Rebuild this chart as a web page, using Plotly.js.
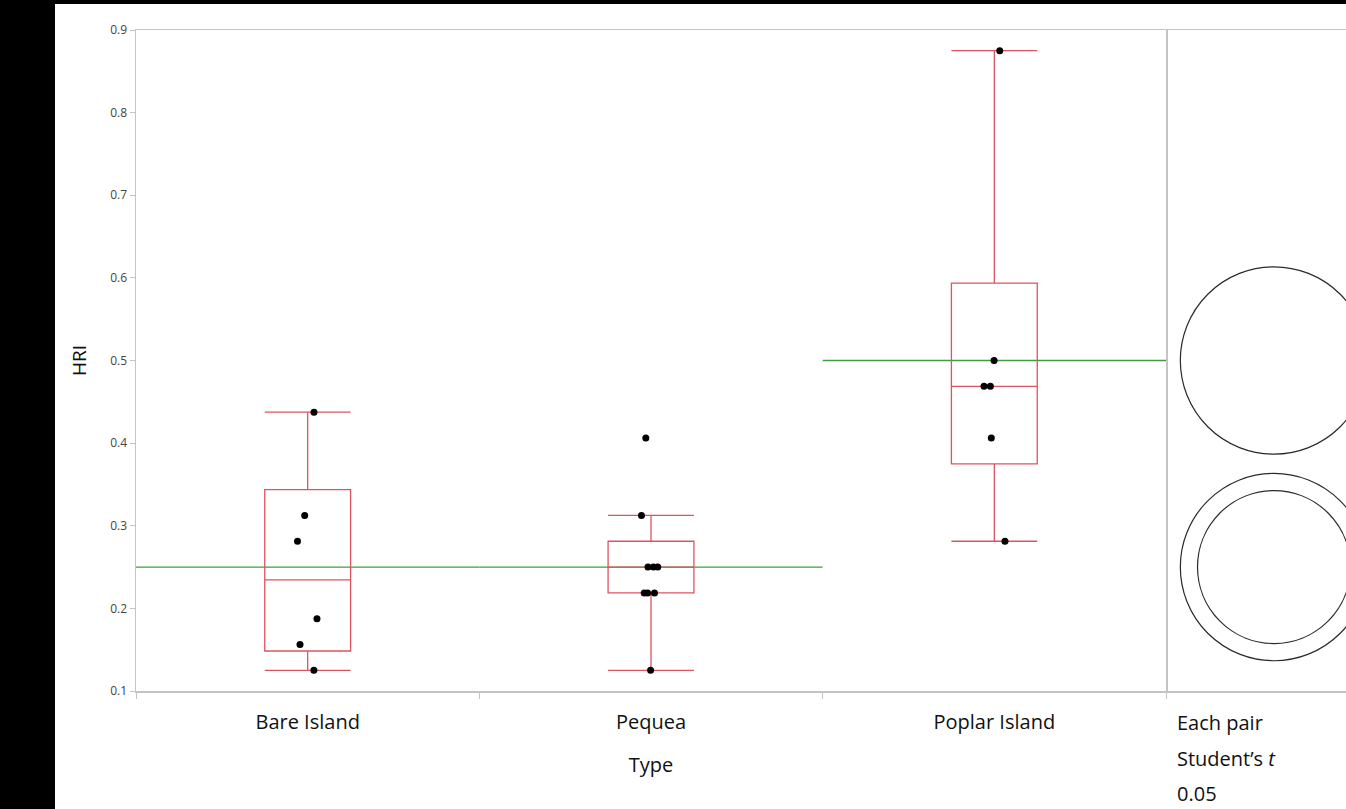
<!DOCTYPE html>
<html><head><meta charset="utf-8">
<script src="https://cdn.plot.ly/plotly-3.0.1.min.js"></script>
<style>
html,body{margin:0;padding:0;background:#000;overflow:hidden;width:1346px;height:809px}
#chart{position:absolute;left:55px;top:4px;width:1291px;height:805px;background:#fff}
</style>
</head><body><div id="chart"></div>
<script>
// ---- data (HRI by Type) ----
const categories = ['Bare Island', 'Pequea', 'Poplar Island'];
const bareIsland = [0.4375, 0.3125, 0.28125, 0.1875, 0.15625, 0.125];
const pequea = [0.40625, 0.3125, 0.25, 0.25, 0.25, 0.21875, 0.21875, 0.21875, 0.125];
const poplarIsland = [0.875, 0.5, 0.46875, 0.46875, 0.40625, 0.28125];
const yTickVals = [0.1, 0.2, 0.3, 0.4, 0.5, 0.6, 0.7, 0.8, 0.9];
const yRange = [0.1, 0.9];
const alphaLevel = '0.05';
const tCrit = 2.1009; // Student's t, alpha 0.05 two-sided, df = N - k = 18

const groups = [bareIsland, pequea, poplarIsland];

// ---- statistics (JMP style quantiles: position (n+1)p) ----
function quant(sorted, p) {
  const n = sorted.length, pos = (n + 1) * p, lo = Math.floor(pos);
  if (lo < 1) return sorted[0];
  if (lo >= n) return sorted[n - 1];
  return sorted[lo - 1] + (pos - lo) * (sorted[lo] - sorted[lo - 1]);
}
const stats = groups.map(g => {
  const s = g.slice().sort((a, b) => a - b);
  const q1 = quant(s, 0.25), med = quant(s, 0.5), q3 = quant(s, 0.75);
  const iqr = q3 - q1;
  const lf = Math.min(...s.filter(v => v >= q1 - 1.5 * iqr - 1e-12));
  const uf = Math.max(...s.filter(v => v <= q3 + 1.5 * iqr + 1e-12));
  const mean = g.reduce((a, b) => a + b, 0) / g.length;
  return {q1, med, q3, lf, uf, mean, n: g.length};
});
const N = groups.reduce((a, g) => a + g.length, 0);
const sse = groups.reduce((acc, g, i) => acc + g.reduce((a, v) => a + (v - stats[i].mean) ** 2, 0), 0);
const rmse = Math.sqrt(sse / (N - groups.length));

// ---- layout geometry ----
const W = 1291, H = 805;
const M = {l: 81, r: 0, t: 26, b: 118};
const plotW = W - M.l - M.r, plotH = H - M.t - M.b;
const split = 1030 / plotW;
const pxPerUnit = plotH / (yRange[1] - yRange[0]);
const panelPx = plotW * (1 - split);
const x2Range = [0, panelPx / pxPerUnit];
const circleCx = x2Range[1] * 0.6;

const boxColor = '#dc5462';
const meanColor = '#3c9e3c';
const frameColor = '#c4c4c4';
const font = 'Open Sans, Noto Sans, sans-serif';

const boxTrace = {
  type: 'box', x: categories,
  q1: stats.map(s => s.q1), median: stats.map(s => s.med), q3: stats.map(s => s.q3),
  lowerfence: stats.map(s => s.lf), upperfence: stats.map(s => s.uf),
  boxpoints: false, width: 0.25, whiskerwidth: 1,
  line: {color: boxColor, width: 1.3}, fillcolor: 'rgba(0,0,0,0)',
  xaxis: 'x', yaxis: 'y', showlegend: false, hoverinfo: 'skip'
};
const ptX = [], ptY = [];
groups.forEach((g, i) => g.forEach(v => { ptX.push(categories[i]); ptY.push(v); }));
const pointTrace = {
  type: 'box', x: ptX, y: ptY, boxpoints: 'all', jitter: 0.28, pointpos: 0,
  width: 0.25, line: {color: 'rgba(0,0,0,0)', width: 0}, fillcolor: 'rgba(0,0,0,0)',
  marker: {color: '#000', size: 7, line: {width: 0}},
  xaxis: 'x', yaxis: 'y', showlegend: false, hoveron: 'points'
};

const shapes = [];
stats.forEach((s, i) => {
  shapes.push({type: 'line', xref: 'x', yref: 'y', x0: i - 0.5, x1: i + 0.5, y0: s.mean, y1: s.mean,
    line: {color: meanColor, width: 1.3}, layer: 'below'});
});
// comparison circles (Each pair, Student's t)
stats.forEach(s => {
  const r = tCrit * rmse / Math.sqrt(s.n);
  shapes.push({type: 'circle', xref: 'x2', yref: 'y', x0: circleCx - r, x1: circleCx + r,
    y0: s.mean - r, y1: s.mean + r, line: {color: '#2a2a2a', width: 1.2}});
});

const txtX = (1120 - M.l) / plotW;
const pyFromDiv = yd => (M.t + plotH - yd) / plotH;
const noteFont = {family: font, size: 20, color: '#111'};
const annotations = [
  {text: 'Each pair', y: pyFromDiv(718)},
  {text: 'Student\u2019s <i>t</i>', y: pyFromDiv(754)},
  {text: alphaLevel, y: pyFromDiv(789)}
].map(a => Object.assign({xref: 'paper', yref: 'paper', x: txtX, xanchor: 'left', yanchor: 'middle',
  showarrow: false, font: noteFont}, a));

const layout = {
  width: W, height: H, margin: M, autosize: false,
  paper_bgcolor: '#fff', plot_bgcolor: '#fff', boxmode: 'overlay', showlegend: false,
  xaxis: {
    type: 'category', domain: [0, split], anchor: 'y', range: [-0.5, 2.5],
    tickson: 'boundaries', ticks: 'outside', ticklen: 6, tickcolor: frameColor, tickwidth: 1,
    ticklabelstandoff: 12,
    showline: true, linecolor: frameColor, linewidth: 1.5, mirror: true,
    showgrid: false, zeroline: false, automargin: false,
    tickfont: {family: font, size: 20, color: '#111'},
    title: {text: 'Type', font: {family: font, size: 20, color: '#111'}, standoff: 24}
  },
  yaxis: {
    range: yRange, tickvals: yTickVals, tickformat: '.1f',
    ticks: 'outside', ticklen: 5, tickcolor: frameColor, tickwidth: 1,
    showline: true, linecolor: frameColor, linewidth: 1.5, mirror: true,
    showgrid: false, zeroline: false, automargin: false,
    tickfont: {family: font, size: 12, color: '#444'},
    title: {text: 'HRI', font: {family: font, size: 19, color: '#111'}, standoff: 18}
  },
  xaxis2: {
    domain: [split, 1], anchor: 'y', range: x2Range,
    showline: true, linecolor: frameColor, linewidth: 1.5, mirror: true,
    ticks: '', showticklabels: false, showgrid: false, zeroline: false
  },
  shapes: shapes,
  annotations: annotations
};

Plotly.newPlot('chart', [boxTrace, pointTrace], layout, {displayModeBar: false, staticPlot: true});
</script>
</body></html>
